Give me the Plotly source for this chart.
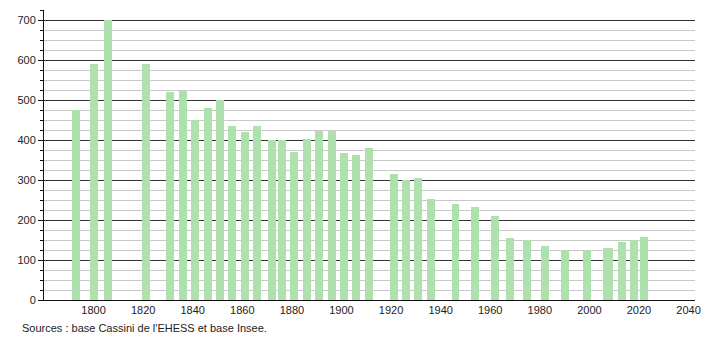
import plotly.graph_objects as go

years = [1793, 1800, 1806, 1821, 1831, 1836, 1841, 1846, 1851, 1856, 1861, 1866,
         1872, 1876, 1881, 1886, 1891, 1896, 1901, 1906, 1911, 1921, 1926, 1931,
         1936, 1946, 1954, 1962, 1968, 1975, 1982, 1990, 1999, 2007, 2008, 2013,
         2018, 2022]
population = [475, 591, 700, 592, 520, 524, 450, 480, 500, 435, 420, 435,
              400, 400, 370, 402, 423, 423, 367, 362, 380, 315, 300, 305,
              252, 240, 232, 210, 155, 150, 135, 125, 125, 130, 130, 145,
              150, 157]
x_ticks = [1800, 1820, 1840, 1860, 1880, 1900, 1920, 1940, 1960, 1980, 2000, 2020, 2040]
y_tick_step, y_minor_step = 100, 25
source_text = "Sources : base Cassini de l'EHESS et base Insee."

fig = go.Figure(go.Bar(
    x=years, y=population, width=3.2,
    marker=dict(color="rgb(174,225,174)", line=dict(width=0)),
    hoverinfo="x+y",
))

font = dict(family="Liberation Sans, Arial, sans-serif", size=11, color="#222")

fig.update_layout(
    width=710, height=340,
    margin=dict(l=44, r=9, t=10, b=40),
    paper_bgcolor="white", plot_bgcolor="white",
    showlegend=False, bargap=0,
    font=font,
    xaxis=dict(
        range=[1780, 2042.6], tickmode="array", tickvals=x_ticks,
        ticktext=[str(v) for v in x_ticks],
        showgrid=False, zeroline=False, showline=True, linecolor="#111", linewidth=1,
        ticks="", tickfont=font,
    ),
    yaxis=dict(
        range=[0, 726], tickmode="linear", tick0=0, dtick=y_tick_step,
        showgrid=True, gridcolor="#333", gridwidth=1,
        zeroline=False, showline=True, linecolor="#111", linewidth=1,
        ticks="outside", ticklen=5, tickcolor="#111", tickfont=font,
        minor=dict(dtick=y_minor_step, tick0=0, showgrid=True, gridcolor="#c8c8c8", gridwidth=1,
                   ticks="outside", ticklen=3, tickcolor="#111"),
    ),
    annotations=[dict(
        text=source_text, xref="paper", yref="paper", x=-0.037, y=-0.0966,
        xanchor="left", yanchor="middle", showarrow=False,
        font=dict(family="Liberation Sans, Arial, sans-serif", size=11, color="#222"),
    )],
)

fig.write_html("out.html")
